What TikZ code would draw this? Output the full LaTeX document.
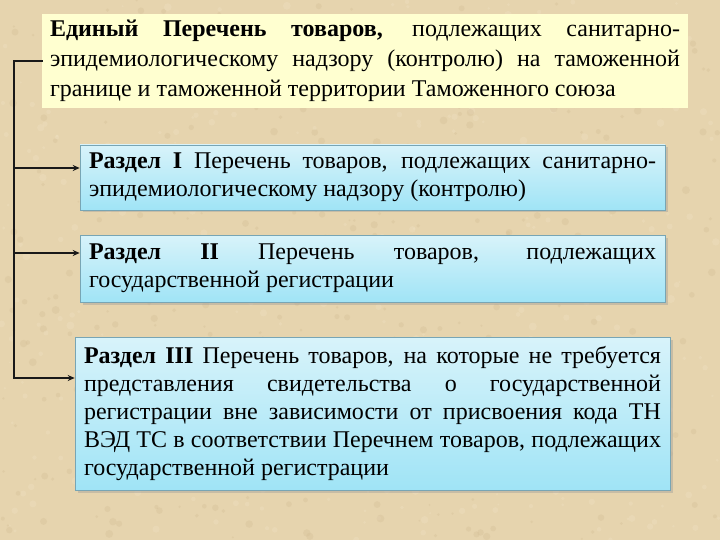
\documentclass[tikz,border=0pt]{standalone}
\usepackage{fontspec}
\setmainfont{Liberation Serif}
\usetikzlibrary{shadows,arrows.meta}
\definecolor{bg}{RGB}{230,212,174}
\definecolor{bgdark}{RGB}{212,190,150}
\definecolor{bglight}{RGB}{240,226,196}
\definecolor{topfill}{RGB}{255,255,208}
\definecolor{boxtop}{RGB}{216,243,250}
\definecolor{boxbot}{RGB}{160,228,246}
\definecolor{boxline}{RGB}{120,165,180}
\begin{document}
\begin{tikzpicture}[x=1pt,y=-1pt,
  topbox/.style={fill=topfill, minimum width=646pt, minimum height=94pt,
    text width=630pt, align=justify, inner sep=0pt,
    font=\fontsize{24}{30}\selectfont},
  secbox/.style={draw=boxline, line width=0.6pt, top color=boxtop, bottom color=boxbot,
    drop shadow={shadow xshift=2.5pt,shadow yshift=-2.5pt,fill=black!40,opacity=0.4},
    inner sep=0pt, align=justify, font=\fontsize{24}{28}\selectfont},
  conn/.style={line width=1.8pt, draw=black!90},
  arr/.style={conn, -{Stealth[length=7pt,width=6pt]}}]
\useasboundingbox (0,0) rectangle (720,540);
\begin{scope}
\clip (0,0) rectangle (720,540);
\fill[bg] (0,0) rectangle (720,540);
\pgfmathsetseed{7}
\foreach \i in {1,...,900}{
  \pgfmathsetmacro{\px}{720*rnd}
  \pgfmathsetmacro{\py}{540*rnd}
  \pgfmathsetmacro{\pr}{1+3*rnd}
  \pgfmathsetmacro{\pc}{rnd}
  \ifdim\pc pt<0.5pt
    \fill[bgdark, opacity=0.35] (\px,\py) circle[radius=\pr pt];
  \else
    \fill[bglight, opacity=0.35] (\px,\py) circle[radius=\pr pt];
  \fi
}
\end{scope}

\node[topbox] (top) at (365,61) {\textbf{Единый Перечень товаров,} подлежащих санитарно-\linebreak эпидемиологическому надзору (контролю) на таможенной\linebreak границе и таможенной территории Таможенного союза};

\node[secbox, minimum width=585pt, minimum height=65pt, text width=567pt] (b1) at (372.5,177.5)
  {\textbf{Раздел I} Перечень товаров, подлежащих санитарно-\linebreak эпидемиологическому надзору (контролю)};
\node[secbox, minimum width=585pt, minimum height=67pt, text width=567pt] (b2) at (372.5,268.5)
  {\textbf{Раздел II} Перечень товаров, подлежащих\linebreak государственной регистрации};
\node[secbox, minimum width=595pt, minimum height=153pt, text width=577pt] (b3) at (372.5,413.5)
  {\textbf{Раздел III} Перечень товаров, на которые не требуется\linebreak представления свидетельства о государственной\linebreak регистрации вне зависимости от присвоения кода ТН\linebreak ВЭД ТС в соответствии Перечнем товаров, подлежащих\linebreak государственной регистрации};

\coordinate (j0) at (14,61);
\coordinate (j1) at (14,168);
\coordinate (j2) at (14,253);
\coordinate (j3) at (14,378);
\draw[conn, line cap=rect] (top.west |- j0) -- (j0) -- (j3);
\draw[arr] (j1) -- (j1 -| b1.west);
\draw[arr] (j2) -- (j2 -| b2.west);
\draw[arr] (j3) -- (j3 -| b3.west);
\end{tikzpicture}
\end{document}
